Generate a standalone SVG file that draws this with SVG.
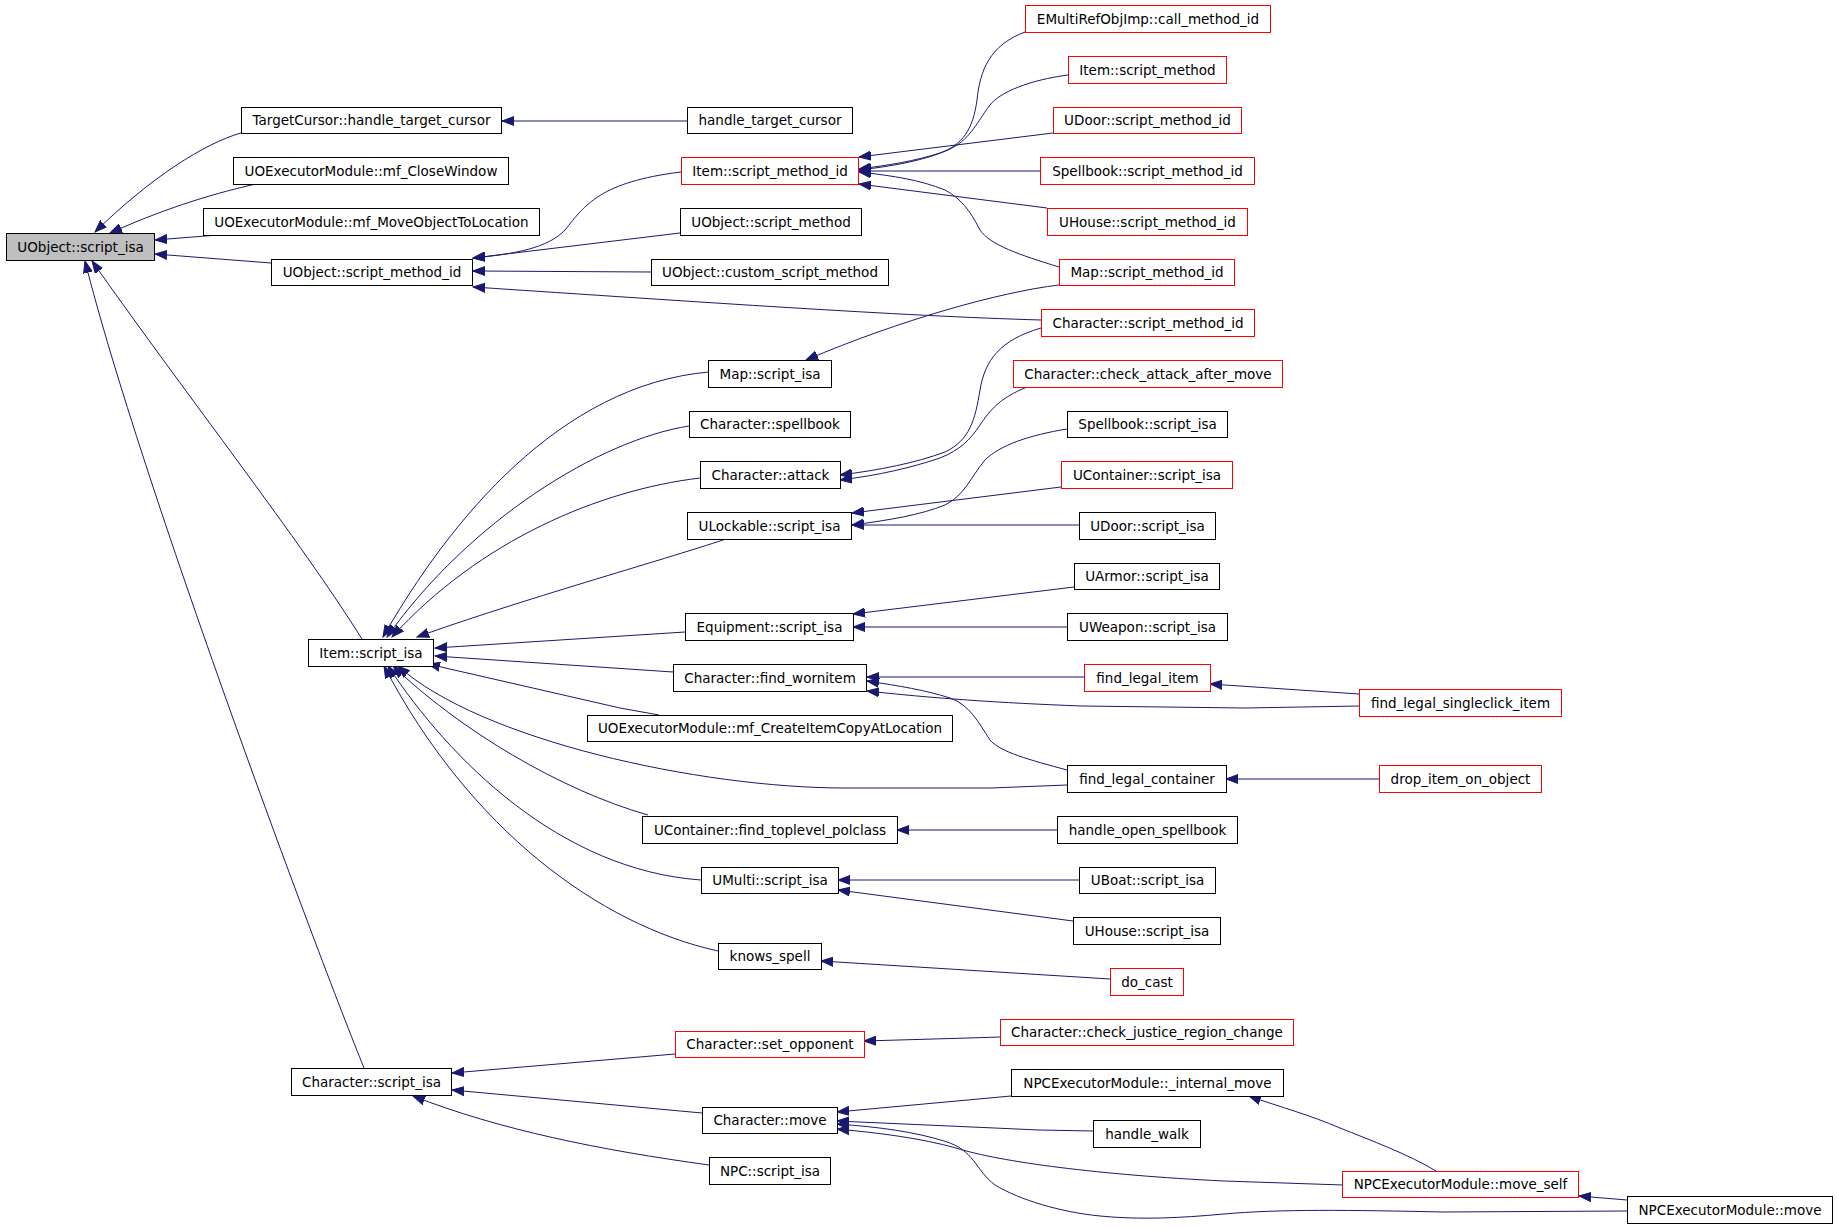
<svg xmlns="http://www.w3.org/2000/svg" width="1837" height="1228" viewBox="0 0 1837 1228">
<style>
.n rect{fill:#fff;stroke:#000;stroke-width:1}
.n.r rect{stroke:#f00}
.n.g rect{fill:#bfbfbf}
.n text{font-family:"DejaVu Sans",sans-serif;font-size:13.5px;fill:#000;text-anchor:middle}
#edges path{fill:none;stroke:#191970;stroke-width:1;marker-end:url(#ah)}
</style>
<defs>
<marker id="ah" markerWidth="13" markerHeight="10" refX="12" refY="5" orient="auto" markerUnits="userSpaceOnUse">
<path d="M0,0.5 L12,5 L0,9.5 z" fill="#191970" stroke="#191970" stroke-width="1"/>
</marker>
</defs>
<rect width="1837" height="1228" fill="#fff"/>
<g id="edges">
<path d="M241,133 C205,143 150,178 95,232"/>
<path d="M256,184 C220,192 170,206 110,233"/>
<path d="M218,235 L155,240"/>
<path d="M271,263 L155,254"/>
<path d="M362,639 C300,540 190,400 92,261"/>
<path d="M364,1068 C320,960 140,480 85,261"/>
<path d="M687,121 L502,121"/>
<path d="M681,172 C600,182 585,205 565,230 C548,248 515,254 473,258"/>
<path d="M680,233 L473,258"/>
<path d="M651,272 L473,271"/>
<path d="M1041,320 C900,316 700,302 473,287"/>
<path d="M1025,32 C990,45 980,70 977,100 C973,130 962,145 940,153 C915,161 890,165 859,169"/>
<path d="M1068,75 C1030,80 1000,92 990,105 C975,125 970,140 948,150 C925,160 895,166 859,170"/>
<path d="M1053,133 L859,157"/>
<path d="M1040,171 L859,171"/>
<path d="M1047,208 L859,184"/>
<path d="M1059,267 C1020,255 990,245 980,230 C970,210 960,198 945,190 C920,180 895,176 859,172"/>
<path d="M1059,285 C1000,292 900,320 806,360"/>
<path d="M1041,328 C1000,340 985,360 980,390 C975,420 970,440 945,452 C915,463 880,470 840,475"/>
<path d="M1027,387 C1000,398 990,410 980,425 C970,440 960,450 940,458 C910,468 880,475 840,480"/>
<path d="M1067,429 C1030,435 1000,445 985,460 C970,478 965,495 945,505 C920,515 890,520 852,525"/>
<path d="M1061,487 L852,513"/>
<path d="M1079,525 L852,525"/>
<path d="M1074,587 L853,614"/>
<path d="M1067,627 L853,627"/>
<path d="M1084,677 L867,677"/>
<path d="M1359,706 L1245,708 L1082,706 C1000,703 930,698 867,691"/>
<path d="M1067,770 C1030,760 1000,752 990,740 C978,722 970,705 950,698 C925,690 900,686 867,681"/>
<path d="M1359,694 L1210,684"/>
<path d="M1379,779 L1226,779"/>
<path d="M1057,830 L897,830"/>
<path d="M1079,880 L838,880"/>
<path d="M1073,921 L838,890"/>
<path d="M1110,979 L821,961"/>
<path d="M1000,1037 L968,1038 L864,1041"/>
<path d="M1011,1096 L837,1112"/>
<path d="M1093,1131 L1039,1130 L837,1121"/>
<path d="M1343,1185 L1224,1181 C1100,1175 1000,1162 956,1148 C920,1138 880,1133 837,1129"/>
<path d="M1627,1211 L1443,1212 C1350,1210 1280,1209 1224,1214 C1180,1218 1140,1220 1100,1216 C1060,1212 1020,1200 995,1185 C975,1170 975,1150 944,1141 C915,1132 880,1127 837,1124"/>
<path d="M1436,1171 C1410,1155 1370,1140 1340,1128 C1310,1115 1280,1107 1249,1096"/>
<path d="M1627,1200 L1579,1196"/>
<path d="M675,1054 L452,1073"/>
<path d="M702,1113 L452,1090"/>
<path d="M709,1165 C600,1150 500,1130 413,1096"/>
<path d="M709,372 C560,385 450,520 383,637"/>
<path d="M689,426 C600,440 470,520 387,637"/>
<path d="M700,478 C600,490 480,540 392,637"/>
<path d="M726,539 C660,561 520,600 417,637"/>
<path d="M685,632 L435,648"/>
<path d="M673,672 L435,656"/>
<path d="M659,715 L620,708 L428,664"/>
<path d="M1067,785 L991,788 L845,788 C700,788 480,740 398,666"/>
<path d="M648,815 C560,790 460,730 393,666"/>
<path d="M701,880 C560,870 450,760 388,666"/>
<path d="M718,951 C600,925 470,830 384,666"/>
</g>
<g id="n_uobject_script_isa" class="n g"><rect x="6.5" y="233.5" width="148" height="27"/><text x="80.5" y="251.5">UObject::script_isa</text></g>
<g id="n_tc_handle" class="n"><rect x="241.5" y="107.5" width="260" height="26"/><text x="371.5" y="125">TargetCursor::handle_target_cursor</text></g>
<g id="n_mf_close" class="n"><rect x="233.5" y="157.5" width="275" height="27"/><text x="371" y="175.5">UOExecutorModule::mf_CloseWindow</text></g>
<g id="n_mf_move" class="n"><rect x="203.5" y="208.5" width="336" height="27"/><text x="371.5" y="226.5">UOExecutorModule::mf_MoveObjectToLocation</text></g>
<g id="n_uobject_smid" class="n"><rect x="271.5" y="259.5" width="201" height="26"/><text x="372" y="277">UObject::script_method_id</text></g>
<g id="n_item_isa" class="n"><rect x="308.5" y="639.5" width="125" height="27"/><text x="371" y="657.5">Item::script_isa</text></g>
<g id="n_char_isa" class="n"><rect x="291.5" y="1068.5" width="160" height="27"/><text x="371.5" y="1086.5">Character::script_isa</text></g>
<g id="n_handle_tc" class="n"><rect x="687.5" y="107.5" width="165" height="26"/><text x="770" y="125">handle_target_cursor</text></g>
<g id="n_item_smid" class="n r"><rect x="681.5" y="157.5" width="177" height="27"/><text x="770" y="175.5">Item::script_method_id</text></g>
<g id="n_uobject_sm" class="n"><rect x="680.5" y="208.5" width="181" height="27"/><text x="771" y="226.5">UObject::script_method</text></g>
<g id="n_uobject_csm" class="n"><rect x="651.5" y="259.5" width="237" height="26"/><text x="770" y="277">UObject::custom_script_method</text></g>
<g id="n_map_isa" class="n"><rect x="708.5" y="360.5" width="123" height="27"/><text x="770" y="378.5">Map::script_isa</text></g>
<g id="n_char_spellbook" class="n"><rect x="689.5" y="411.5" width="161" height="26"/><text x="770" y="429">Character::spellbook</text></g>
<g id="n_char_attack" class="n"><rect x="700.5" y="461.5" width="140" height="27"/><text x="770.5" y="479.5">Character::attack</text></g>
<g id="n_ulockable_isa" class="n"><rect x="687.5" y="512.5" width="164" height="27"/><text x="769.5" y="530.5">ULockable::script_isa</text></g>
<g id="n_equip_isa" class="n"><rect x="685.5" y="613.5" width="168" height="27"/><text x="769.5" y="631.5">Equipment::script_isa</text></g>
<g id="n_char_fw" class="n"><rect x="673.5" y="664.5" width="193" height="27"/><text x="770" y="682.5">Character::find_wornitem</text></g>
<g id="n_mf_create" class="n"><rect x="587.5" y="715.5" width="365" height="26"/><text x="770" y="733">UOExecutorModule::mf_CreateItemCopyAtLocation</text></g>
<g id="n_ucont_ftp" class="n"><rect x="642.5" y="816.5" width="255" height="27"/><text x="770" y="834.5">UContainer::find_toplevel_polclass</text></g>
<g id="n_umulti_isa" class="n"><rect x="701.5" y="867.5" width="137" height="26"/><text x="770" y="885">UMulti::script_isa</text></g>
<g id="n_knows_spell" class="n"><rect x="718.5" y="943.5" width="103" height="26"/><text x="770" y="961">knows_spell</text></g>
<g id="n_char_setopp" class="n r"><rect x="675.5" y="1031.5" width="189" height="26"/><text x="770" y="1049">Character::set_opponent</text></g>
<g id="n_char_move" class="n"><rect x="702.5" y="1107.5" width="135" height="26"/><text x="770" y="1125">Character::move</text></g>
<g id="n_npc_isa" class="n"><rect x="709.5" y="1157.5" width="121" height="27"/><text x="770" y="1175.5">NPC::script_isa</text></g>
<g id="n_emulti" class="n r"><rect x="1025.5" y="5.5" width="245" height="27"/><text x="1148" y="23.5">EMultiRefObjImp::call_method_id</text></g>
<g id="n_item_sm" class="n r"><rect x="1068.5" y="56.5" width="158" height="27"/><text x="1147.5" y="74.5">Item::script_method</text></g>
<g id="n_udoor_smid" class="n r"><rect x="1053.5" y="107.5" width="188" height="26"/><text x="1147.5" y="125">UDoor::script_method_id</text></g>
<g id="n_spellbook_smid" class="n r"><rect x="1040.5" y="157.5" width="214" height="27"/><text x="1147.5" y="175.5">Spellbook::script_method_id</text></g>
<g id="n_uhouse_smid" class="n r"><rect x="1047.5" y="208.5" width="200" height="27"/><text x="1147.5" y="226.5">UHouse::script_method_id</text></g>
<g id="n_map_smid" class="n r"><rect x="1059.5" y="259.5" width="175" height="26"/><text x="1147" y="277">Map::script_method_id</text></g>
<g id="n_char_smid" class="n r"><rect x="1041.5" y="309.5" width="213" height="27"/><text x="1148" y="327.5">Character::script_method_id</text></g>
<g id="n_char_caam" class="n r"><rect x="1013.5" y="360.5" width="269" height="27"/><text x="1148" y="378.5">Character::check_attack_after_move</text></g>
<g id="n_spellbook_isa" class="n"><rect x="1067.5" y="411.5" width="160" height="26"/><text x="1147.5" y="429">Spellbook::script_isa</text></g>
<g id="n_ucont_isa" class="n r"><rect x="1061.5" y="461.5" width="171" height="27"/><text x="1147" y="479.5">UContainer::script_isa</text></g>
<g id="n_udoor_isa" class="n"><rect x="1079.5" y="512.5" width="136" height="27"/><text x="1147.5" y="530.5">UDoor::script_isa</text></g>
<g id="n_uarmor_isa" class="n"><rect x="1074.5" y="563.5" width="145" height="26"/><text x="1147" y="581">UArmor::script_isa</text></g>
<g id="n_uweapon_isa" class="n"><rect x="1067.5" y="613.5" width="160" height="27"/><text x="1147.5" y="631.5">UWeapon::script_isa</text></g>
<g id="n_find_legal_item" class="n r"><rect x="1084.5" y="664.5" width="126" height="27"/><text x="1147.5" y="682.5">find_legal_item</text></g>
<g id="n_find_legal_container" class="n"><rect x="1067.5" y="765.5" width="159" height="27"/><text x="1147" y="783.5">find_legal_container</text></g>
<g id="n_handle_open_spellbook" class="n"><rect x="1057.5" y="816.5" width="180" height="27"/><text x="1147.5" y="834.5">handle_open_spellbook</text></g>
<g id="n_uboat_isa" class="n"><rect x="1079.5" y="867.5" width="136" height="26"/><text x="1147.5" y="885">UBoat::script_isa</text></g>
<g id="n_uhouse_isa" class="n"><rect x="1073.5" y="917.5" width="147" height="27"/><text x="1147" y="935.5">UHouse::script_isa</text></g>
<g id="n_do_cast" class="n r"><rect x="1110.5" y="968.5" width="73" height="27"/><text x="1147" y="986.5">do_cast</text></g>
<g id="n_char_cjrc" class="n r"><rect x="1000.5" y="1019.5" width="293" height="26"/><text x="1147" y="1037">Character::check_justice_region_change</text></g>
<g id="n_npc_internal_move" class="n"><rect x="1011.5" y="1069.5" width="272" height="27"/><text x="1147.5" y="1087.5">NPCExecutorModule::_internal_move</text></g>
<g id="n_handle_walk" class="n"><rect x="1093.5" y="1120.5" width="107" height="27"/><text x="1147" y="1138.5">handle_walk</text></g>
<g id="n_find_legal_sc" class="n r"><rect x="1359.5" y="689.5" width="202" height="27"/><text x="1460.5" y="707.5">find_legal_singleclick_item</text></g>
<g id="n_drop_item" class="n r"><rect x="1379.5" y="765.5" width="162" height="27"/><text x="1460.5" y="783.5">drop_item_on_object</text></g>
<g id="n_npc_move_self" class="n r"><rect x="1342.5" y="1171.5" width="236" height="26"/><text x="1460.5" y="1189">NPCExecutorModule::move_self</text></g>
<g id="n_npc_move" class="n"><rect x="1627.5" y="1196.5" width="205" height="27"/><text x="1730" y="1214.5">NPCExecutorModule::move</text></g>
</svg>
